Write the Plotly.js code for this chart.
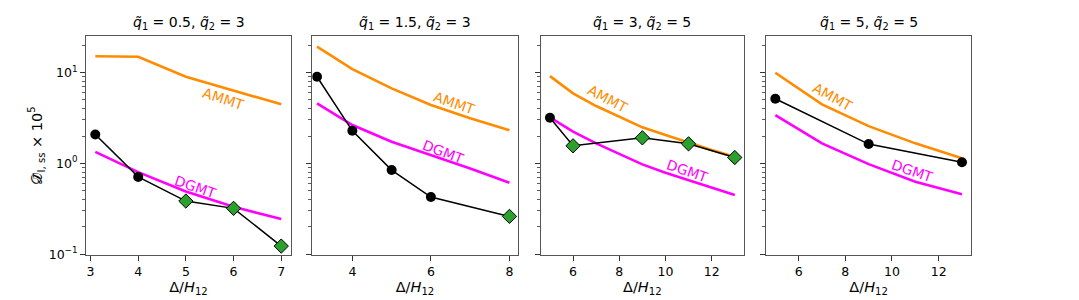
<!DOCTYPE html>
<html><head><meta charset="utf-8">
<script src="https://cdn.plot.ly/plotly-3.0.1.min.js"></script>
<style>body{margin:0;padding:0;background:#fff}#chart{width:1079px;height:300px}</style>
</head><body><div id="chart"></div>
<script>
// ---- data ----
const panelTitles = [
  "<i>q̃</i><sub>1</sub> = 0.5, <i>q̃</i><sub>2</sub> = 3",
  "<i>q̃</i><sub>1</sub> = 1.5, <i>q̃</i><sub>2</sub> = 3",
  "<i>q̃</i><sub>1</sub> = 3, <i>q̃</i><sub>2</sub> = 5",
  "<i>q̃</i><sub>1</sub> = 5, <i>q̃</i><sub>2</sub> = 5"
];
// panel 1
const p1AmmtX = [3.1, 4, 5, 6, 7];
const p1AmmtY = [15.1, 14.9, 8.97, 6.3, 4.46];
const p1DgmtX = [3.1, 4, 5, 6, 7];
const p1DgmtY = [1.34, 0.80, 0.49, 0.333, 0.244];
const p1SimX = [3.1, 4, 5, 6, 7];
const p1SimY = [2.08, 0.71, 0.385, 0.32, 0.123];
const p1SimKind = ["c", "c", "d", "d", "d"];
// panel 2
const p2AmmtX = [3.1, 4, 5, 6, 7, 8];
const p2AmmtY = [19.2, 10.9, 6.68, 4.38, 3.13, 2.32];
const p2DgmtX = [3.1, 4, 5, 6, 7, 8];
const p2DgmtY = [4.57, 2.64, 1.73, 1.23, 0.88, 0.612];
const p2SimX = [3.1, 4, 5, 6, 8];
const p2SimY = [8.97, 2.28, 0.844, 0.426, 0.261];
const p2SimKind = ["c", "c", "c", "c", "d"];
// panel 3
const p3AmmtX = [5, 6, 7, 8, 9, 10, 11, 12, 13];
const p3AmmtY = [9.12, 5.9, 4.27, 3.26, 2.49, 2.05, 1.69, 1.40, 1.18];
const p3DgmtX = [5, 6, 7, 8, 9, 10, 11, 12, 13];
const p3DgmtY = [3.21, 2.23, 1.66, 1.27, 0.975, 0.788, 0.655, 0.545, 0.448];
const p3SimX = [5, 6, 9, 11, 13];
const p3SimY = [3.18, 1.56, 1.91, 1.64, 1.16];
const p3SimKind = ["c", "d", "d", "d", "d"];
// panel 4
const p4AmmtX = [5, 7, 9, 11, 13];
const p4AmmtY = [9.93, 4.46, 2.57, 1.66, 1.135];
const p4DgmtX = [5, 7, 9, 11, 13];
const p4DgmtY = [3.4, 1.66, 0.98, 0.628, 0.456];
const p4SimX = [5, 9, 13];
const p4SimY = [5.14, 1.63, 1.03];
const p4SimKind = ["c", "c", "c"];

// x tick values
const p1XTicks = [3, 4, 5, 6, 7];
const p2XTicks = [4, 6, 8];
const p3XTicks = [6, 8, 10, 12];
const p4XTicks = [6, 8, 10, 12];
const yMajorTicks = [0.1, 1, 10];
const yMajorText = ["10<sup>−1</sup>", "10<sup>0</sup>", "10<sup>1</sup>"];
const yMinorTicks = [0.2,0.3,0.4,0.5,0.6,0.7,0.8,0.9,2,3,4,5,6,7,8,9,20];

// label positions (x data, log10 y) and angles
const labelPos = [
  {a:[5.79, 0.707, 18], d:[5.20, -0.261, 19]},
  {a:[6.59, 0.667, 19], d:[6.32, 0.128, 21]},
  {a:[7.51, 0.704, 28], d:[10.94, -0.081, 19]},
  {a:[7.46, 0.726, 29], d:[10.89, -0.081, 19]}
];

// ---- build ----
const FONT = "DejaVu Sans, sans-serif";
const ORANGE = "#ff8c00", MAGENTA = "#ff00ff", GREEN = "#2ca02c";
const panels = [
  {ax:[p1AmmtX,p1AmmtY], dg:[p1DgmtX,p1DgmtY], sim:[p1SimX,p1SimY,p1SimKind], ticks:p1XTicks},
  {ax:[p2AmmtX,p2AmmtY], dg:[p2DgmtX,p2DgmtY], sim:[p2SimX,p2SimY,p2SimKind], ticks:p2XTicks},
  {ax:[p3AmmtX,p3AmmtY], dg:[p3DgmtX,p3DgmtY], sim:[p3SimX,p3SimY,p3SimKind], ticks:p3XTicks},
  {ax:[p4AmmtX,p4AmmtY], dg:[p4DgmtX,p4DgmtY], sim:[p4SimX,p4SimY,p4SimKind], ticks:p4XTicks}
];
const xDomains = [[86/1079, 291/1079],[312.3/1079, 517.7/1079],[540.7/1079, 744/1079],[766/1079, 971.3/1079]];
const xRanges = [[2.905, 7.205],[2.98, 8.21],[4.6, 13.4],[4.6, 13.4]];

const traces = [];
const layout = {
  width: 1079, height: 300,
  margin: {l:0, r:0, t:0, b:0},
  paper_bgcolor: "#fff", plot_bgcolor: "#fff",
  showlegend: false,
  font: {family: FONT, color: "#000", size: 12.5},
  annotations: []
};

panels.forEach((p, i) => {
  const n = i + 1;
  const xa = n === 1 ? "x" : "x" + n;
  const ya = n === 1 ? "y" : "y" + n;
  traces.push({x:p.ax[0], y:p.ax[1], xaxis:xa, yaxis:ya, mode:"lines",
    line:{color:ORANGE, width:2.6}, hoverinfo:"skip"});
  traces.push({x:p.dg[0], y:p.dg[1], xaxis:xa, yaxis:ya, mode:"lines",
    line:{color:MAGENTA, width:2.6}, hoverinfo:"skip"});
  traces.push({x:p.sim[0], y:p.sim[1], xaxis:xa, yaxis:ya, mode:"lines",
    line:{color:"#000", width:1.5}, hoverinfo:"skip"});
  const cx = [], cy = [], dx = [], dy = [];
  p.sim[2].forEach((k, j) => {
    if (k === "c") { cx.push(p.sim[0][j]); cy.push(p.sim[1][j]); }
    else { dx.push(p.sim[0][j]); dy.push(p.sim[1][j]); }
  });
  traces.push({x:cx, y:cy, xaxis:xa, yaxis:ya, mode:"markers",
    marker:{symbol:"circle", size:10, color:"#000", line:{color:"#000", width:0}}, hoverinfo:"skip"});
  traces.push({x:dx, y:dy, xaxis:xa, yaxis:ya, mode:"markers",
    marker:{symbol:"diamond", size:11, color:GREEN, line:{color:"#000", width:1}}, hoverinfo:"skip"});

  const xk = n === 1 ? "xaxis" : "xaxis" + n;
  const yk = n === 1 ? "yaxis" : "yaxis" + n;
  layout[xk] = {
    domain: xDomains[i], anchor: ya, range: xRanges[i],
    showline: true, mirror: true, linecolor: "#555", linewidth: 1,
    showgrid: false, zeroline: false,
    ticks: "outside", ticklen: 5, tickwidth: 1, tickcolor: "#333",
    tickmode: "array", tickvals: p.ticks,
    tickfont: {family: FONT, size: 12.5, color: "#000"},
    title: {text: "Δ/<i>H</i><sub>12</sub>", font: {family: FONT, size: 14.5, color: "#000"}, standoff: 2}
  };
  layout[yk] = {
    domain: [0.15, 0.88], anchor: xa, type: "log", range: [-1.008, 1.401],
    showline: true, mirror: true, linecolor: "#555", linewidth: 1,
    showgrid: false, zeroline: false,
    ticks: "outside", ticklen: 5, tickwidth: 1, tickcolor: "#333",
    tickmode: "array", tickvals: yMajorTicks, ticktext: yMajorText,
    showticklabels: n === 1,
    tickfont: {family: FONT, size: 12.5, color: "#000"},
    minor: {tickmode: "array", tickvals: yMinorTicks, ticks: "outside", ticklen: 3, tickwidth: 0.8, tickcolor: "#333", showgrid: false}
  };
  layout.annotations.push({
    text: panelTitles[i], xref: xa + " domain", yref: ya + " domain",
    x: 0.5, y: 1, xanchor: "center", yanchor: "bottom", yshift: 2, showarrow: false,
    font: {family: FONT, size: 14, color: "#000"}
  });
  const lp = labelPos[i];
  layout.annotations.push({
    text: "AMMT", xref: xa, yref: ya, x: lp.a[0], y: lp.a[1], textangle: lp.a[2],
    showarrow: false, xanchor: "center", yanchor: "middle",
    font: {family: FONT, size: 14, color: ORANGE}
  });
  layout.annotations.push({
    text: "DGMT", xref: xa, yref: ya, x: lp.d[0], y: lp.d[1], textangle: lp.d[2],
    showarrow: false, xanchor: "center", yanchor: "middle",
    font: {family: FONT, size: 14, color: MAGENTA}
  });
});

layout.annotations.push({
  text: "𝒟̄<sub>I, ss</sub> × 10<sup>5</sup>", xref: "paper", yref: "paper",
  x: 36/1079, y: 0.515, xanchor: "center", yanchor: "middle", textangle: -90, showarrow: false,
  font: {family: FONT, size: 14.5, color: "#000"}
});

Plotly.newPlot("chart", traces, layout, {staticPlot: true, displayModeBar: false});
</script></body></html>
